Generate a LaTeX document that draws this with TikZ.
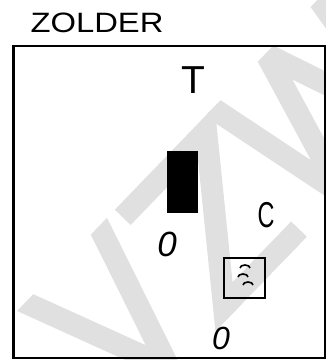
\documentclass[tikz,border=0pt]{standalone}
\usepackage{fontspec}
\setmainfont{Liberation Sans}
\usetikzlibrary{positioning}

\begin{document}
\begin{tikzpicture}[
    x=1pt, y=-1pt,
    handmark/.style={inner sep=0pt, text=black},   % Style for handwritten letters
    wmline/.style={black!12, line width=22pt, line cap=butt, line join=miter}, % Watermark strokes
    furn/.style={draw=black, line width=2pt, inner sep=0pt} % Style for furniture boxes
]

\useasboundingbox (0,0) rectangle (326,360);

% Watermark (VZW, rotated)
\begin{scope}[shift={(172,365)}, rotate=46, x=1pt, y=1pt]
  \clip (-130,-8) rectangle (420,149);
  \draw[wmline] (-61,160) -- (-4,0) -- (53,160);                 % V
  \draw[wmline] (72,138) -- (192,138) -- (78,3) -- (186,3);       % Z
  \draw[wmline] (211,160) -- (241,-3) -- (289,148) -- (337,-3) -- (367,160); % W
\end{scope}

% Title
\node[handmark, font=\fontsize{28}{28}\selectfont, xscale=1.17] (title) at (97,23) {ZOLDER};

% Room outline
\draw[line width=2.5pt] (13.5,358) -- (13.5,46) -- (325,46) -- (325,358) -- cycle;

% Letters in the room
\node[handmark, font=\fontsize{39}{39}\selectfont] (t) at (193,80) {T};
\node[handmark, font=\fontsize{36}{36}\selectfont, xscale=0.65] (c) at (266,215) {C};
\node[handmark, font=\itshape\fontsize{35}{35}\selectfont] (o1) at (167,244) {0};
\node[handmark, font=\itshape\fontsize{32}{32}\selectfont] (o2) at (221,338) {0};

% Dark cabinet
\node[furn, fill=black, minimum width=29, minimum height=60] (kast) at (182.5,182) {};

% Small box with symbol
\node[furn, minimum width=41, minimum height=40] (sym) at (245,278) {};
\draw[line width=1.6pt] ([shift={(-5,-10)}]sym.center) arc[start angle=180, end angle=360, x radius=5, y radius=3];
\draw[line width=1.6pt] ([shift={(-7,-1)}]sym.center) arc[start angle=180, end angle=360, x radius=5, y radius=3];
\draw[line width=1.6pt] ([shift={(-2,7)}]sym.center) arc[start angle=180, end angle=360, x radius=5, y radius=3];

\end{tikzpicture}
\end{document}
